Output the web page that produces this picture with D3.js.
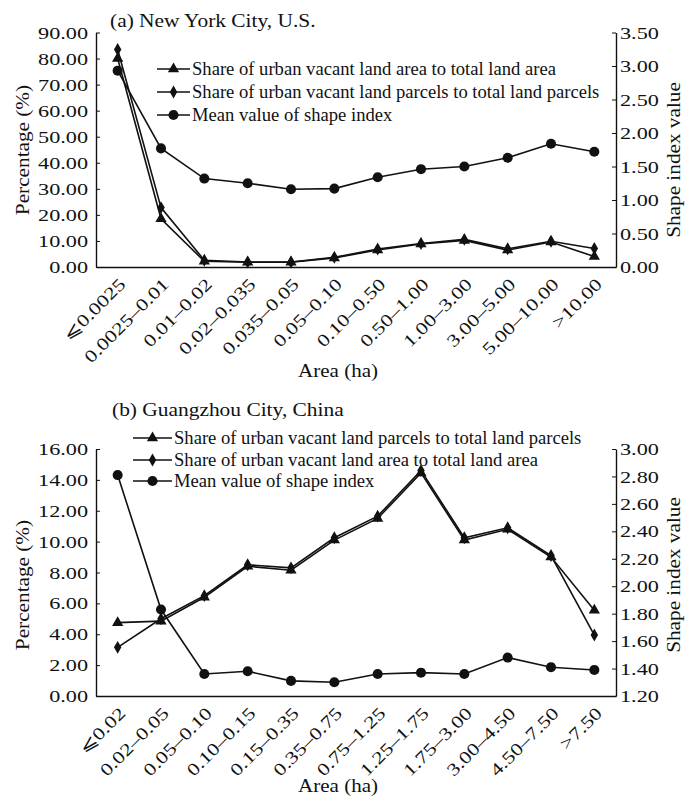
<!DOCTYPE html>
<html>
<head>
<meta charset="utf-8">
<script src="https://cdn.jsdelivr.net/npm/d3@7"></script>
<style>
body { margin: 0; background: #fff; }
svg text { font-family: "Liberation Serif", "Times New Roman", serif; fill: #111; }
</style>
</head>
<body>
<script>
// (a) New York City
var nycCats = ["⩽0.0025", "0.0025–0.01", "0.01–0.02", "0.02–0.035", "0.035–0.05", "0.05–0.10",
    "0.10–0.50", "0.50–1.00", "1.00–3.00", "3.00–5.00", "5.00–10.00", ">10.00"];
var nycAreaShare = [80.0, 18.5, 2.2, 1.8, 1.8, 3.5, 6.5, 8.8, 10.2, 6.5, 9.6, 4.0];
var nycParcelShare = [83.5, 22.8, 2.6, 1.9, 1.9, 3.7, 6.9, 9.0, 10.6, 7.0, 9.9, 7.1];
var nycShape = [2.93, 1.77, 1.32, 1.25, 1.16, 1.17, 1.34, 1.46, 1.50, 1.63, 1.84, 1.72];

// (b) Guangzhou
var gzCats = ["⩽0.02", "0.02–0.05", "0.05–0.10", "0.10–0.15", "0.15–0.35", "0.35–0.75",
    "0.75–1.25", "1.25–1.75", "1.75–3.00", "3.00–4.50", "4.50–7.50", ">7.50"];
var gzParcelShare = [4.75, 4.85, 6.4, 8.4, 8.15, 10.1, 11.5, 14.45, 10.1, 10.8, 9.0, 5.55];
var gzAreaShare = [3.15, 5.0, 6.5, 8.5, 8.3, 10.25, 11.65, 14.6, 10.25, 10.9, 9.1, 3.95];
var gzShape = [2.81, 1.83, 1.36, 1.38, 1.31, 1.30, 1.36, 1.37, 1.36, 1.48, 1.41, 1.39];

var nycLeftTicks = [0, 10, 20, 30, 40, 50, 60, 70, 80, 90];
var nycRightTicks = [0, 0.5, 1, 1.5, 2, 2.5, 3, 3.5];
var gzLeftTicks = [0, 2, 4, 6, 8, 10, 12, 14, 16];
var gzRightTicks = [1.2, 1.4, 1.6, 1.8, 2.0, 2.2, 2.4, 2.6, 2.8, 3.0];

var labelArea = "Share of urban vacant land area to total land area";
var labelParcels = "Share of urban vacant land parcels to total land parcels";
var labelShape = "Mean value of shape index";

var svg = d3.select("body").append("svg")
    .attr("width", 686)
    .attr("height", 803);

var left = 96, right = 616;
var stretch = 1.27;
var fmt = d3.format(".2f");

var triangle = d3.symbol().type(d3.symbolTriangle).size(55);
var diamond = d3.symbol().type(d3.symbolDiamond).size(48);
var circle = d3.symbol().type(d3.symbolCircle).size(80);

function stretchText(sel, x, y, sx, rot) {
    sel.attr("transform", "translate(" + x + "," + y + ")" + (rot ? " rotate(" + rot + ")" : "") + " scale(" + sx + ",1)");
}

function panel(cfg) {
    var x = d3.scalePoint().domain(cfg.cats).range([left, right]).padding(0.5);
    var y = d3.scaleLinear().domain(cfg.yDomain).range([cfg.bottom, cfg.top]);
    var y2 = d3.scaleLinear().domain(cfg.y2Domain).range([cfg.bottom, cfg.top]);
    var g = svg.append("g");

    // x axis, no ticks, rotated labels
    var xa = g.append("g")
        .attr("transform", "translate(0," + cfg.bottom + ")")
        .attr("color", "#111")
        .call(d3.axisBottom(x).tickSize(0).tickSizeOuter(0));
    xa.select(".domain").attr("stroke-width", 1.4);
    xa.selectAll("text")
        .attr("x", 0).attr("y", 0).attr("dy", "0.35em")
        .attr("text-anchor", "end")
        .style("font-size", "17.5px")
        .attr("transform", "translate(4,14) rotate(-45) scale(" + stretch + ",1)");

    var ya = g.append("g")
        .attr("transform", "translate(" + left + ",0)")
        .attr("color", "#111")
        .call(d3.axisLeft(y).tickValues(cfg.leftTicks).tickSize(-4).tickSizeOuter(0).tickFormat(fmt));
    ya.select(".domain").attr("stroke-width", 1.4);
    ya.selectAll("text")
        .attr("x", -8 / stretch)
        .style("font-size", "17.5px")
        .attr("transform", "scale(" + stretch + ",1)");

    var y2a = g.append("g")
        .attr("transform", "translate(" + right + ",0)")
        .attr("color", "#111")
        .call(d3.axisRight(y2).tickValues(cfg.rightTicks).tickSize(-4).tickSizeOuter(0).tickFormat(fmt));
    y2a.select(".domain").attr("stroke-width", 1.4);
    y2a.selectAll("text")
        .attr("x", 4 / stretch)
        .style("font-size", "17.5px")
        .attr("transform", "scale(" + stretch + ",1)");

    var series = [
        {vals: cfg.s1, sym: triangle, sc: y},
        {vals: cfg.s2, sym: diamond, sc: y},
        {vals: cfg.s3, sym: circle, sc: y2}
    ];

    series.forEach(function(s) {
        var line = d3.line()
            .x(function(d, i) { return x(cfg.cats[i]); })
            .y(function(d) { return s.sc(d); });
        g.append("path")
            .attr("d", line(s.vals))
            .attr("fill", "none")
            .attr("stroke", "#111")
            .attr("stroke-width", 1.6);
        g.selectAll(null).data(s.vals).enter().append("path")
            .attr("d", s.sym())
            .attr("fill", "#111")
            .attr("transform", function(d, i) { return "translate(" + x(cfg.cats[i]) + "," + s.sc(d) + ")"; });
    });

    // legend
    var lg = g.append("g");
    cfg.legend.forEach(function(txt, i) {
        var ly = cfg.legY[i];
        lg.append("line")
            .attr("x1", cfg.legX0).attr("x2", cfg.legX1)
            .attr("y1", ly).attr("y2", ly)
            .attr("stroke", "#111").attr("stroke-width", 1.4);
        lg.append("path")
            .attr("d", series[i].sym())
            .attr("fill", "#111")
            .attr("transform", "translate(" + ((cfg.legX0 + cfg.legX1) / 2) + "," + ly + ")");
        lg.append("text")
            .attr("x", cfg.legX1 + 2).attr("y", ly)
            .attr("dy", "0.33em")
            .style("font-size", "18.6px")
            .text(txt);
    });

    // panel title
    g.append("text")
        .style("font-size", "18.8px")
        .text(cfg.title)
        .call(stretchText, cfg.titleX, cfg.titleY, 1.14);

    // axis titles
    g.append("text")
        .attr("text-anchor", "middle")
        .style("font-size", "18.8px")
        .text("Percentage (%)")
        .call(stretchText, 29, cfg.pctY, 1.13, -90);
    g.append("text")
        .attr("text-anchor", "middle")
        .style("font-size", "18.8px")
        .text("Shape index value")
        .call(stretchText, 680, cfg.shapeY, 1.13, -90);
    g.append("text")
        .attr("text-anchor", "middle")
        .style("font-size", "18.8px")
        .text("Area (ha)")
        .call(stretchText, 338, cfg.areaY, 1.12);
}

panel({
    cats: nycCats, s1: nycAreaShare, s2: nycParcelShare, s3: nycShape,
    yDomain: [0, 90], y2Domain: [0, 3.5], leftTicks: nycLeftTicks, rightTicks: nycRightTicks,
    top: 32.5, bottom: 267,
    legend: [labelArea, labelParcels, labelShape],
    legX0: 157, legX1: 190, legY: [69, 92, 115],
    title: "(a) New York City, U.S.", titleX: 110, titleY: 27,
    pctY: 150, shapeY: 160, areaY: 377
});

panel({
    cats: gzCats, s1: gzParcelShare, s2: gzAreaShare, s3: gzShape,
    yDomain: [0, 16], y2Domain: [1.2, 3.0], leftTicks: gzLeftTicks, rightTicks: gzRightTicks,
    top: 449, bottom: 696,
    legend: [labelParcels, labelArea, labelShape],
    legX0: 133, legX1: 172, legY: [438, 460, 481],
    title: "(b) Guangzhou City, China", titleX: 112, titleY: 416,
    pctY: 585, shapeY: 575, areaY: 792
});
</script>
</body>
</html>
